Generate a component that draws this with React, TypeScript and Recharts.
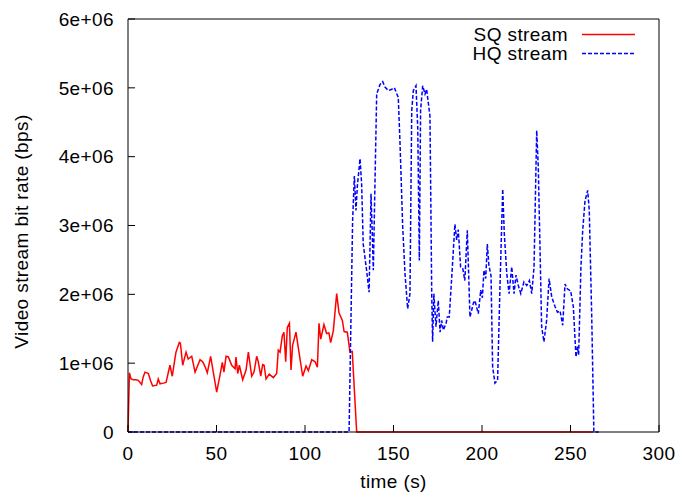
import React from 'react';
import { LineChart, Line, XAxis, YAxis, Legend } from 'recharts';

// SQ stream samples: time (s) and bit rate (Mbps)
const sqTime = [
  0, 0.8, 1.7, 3, 4.5, 5.8, 7.7, 8.6, 9.6, 11.5,
  12.8, 13.9, 16.2, 17.1, 18.1, 20, 21.5, 23.7, 25, 26,
  27.1, 29, 29.6, 30.9, 32.8, 34, 36, 37.9, 40.7, 42.2,
  43.5, 44.8, 46.7, 48.3, 50.1, 52, 53.3, 54.2, 55.4, 56.7,
  58.6, 60.5, 61, 62, 62.9, 64.8, 66.7, 68, 69.9, 71.2,
  72.7, 73.6, 75, 76.1, 76.9, 78, 79.8, 82.1, 84, 84.9,
  85.9, 87.2, 88.1, 89.1, 90, 91.2, 92.1, 93, 94.9, 96.6,
  98.7, 100.6, 101.9, 103.8, 105.7, 107, 107.9, 108.9, 110.7, 112.2,
  113.5, 114.5, 116, 117.9, 119.2, 121.1, 122.1, 123.9, 125.4, 126.7,
  129.2, 263,
];
const sqRate = [
  0, 0.86, 0.77, 0.76, 0.76, 0.75, 0.69, 0.8, 0.87, 0.85,
  0.74, 0.67, 0.68, 0.77, 0.7, 0.71, 0.72, 0.97, 0.81, 0.98,
  1.16, 1.3, 1.29, 0.97, 1.16, 1.06, 1.1, 0.87, 1.05, 1.02,
  0.95, 0.86, 1.1, 0.85, 0.58, 0.83, 1.01, 0.87, 1.1, 1.09,
  0.97, 0.92, 1.09, 0.85, 0.97, 0.76, 0.9, 1.16, 0.81, 0.87,
  1.1, 1.02, 0.81, 0.98, 0.97, 0.77, 0.84, 0.79, 0.85, 1.19,
  1.16, 1.4, 1.45, 1.02, 1.52, 1.58, 0.9, 1.26, 1.45, 1.16,
  0.81, 0.96, 0.89, 1.05, 1.02, 0.94, 1.58, 1.35, 1.56, 1.43,
  1.44, 1.3, 1.47, 2.01, 1.73, 1.62, 1.46, 1.45, 1.16, 1.17,
  0, 0,
];

// HQ stream samples: time (s) and bit rate (Mbps)
const hqTime = [
  0, 124.9, 126.9, 127.9, 128.8, 129.6, 131.1, 132, 132.9, 134.8,
  136.2, 137.3, 138, 138.6, 139.2, 140.5, 142.4, 143.9, 145.2, 147.1,
  149, 150.5, 152.7, 153.7, 155.2, 156.5, 158, 159.3, 160.3, 161.2,
  162.7, 163.7, 164.6, 165.3, 166.5, 167.8, 168.7, 170.6, 171.6, 172.1,
  172.8, 174, 175.3, 176.3, 177.2, 178.2, 179.7, 180.4, 181.5, 182.9,
  184.7, 185.7, 186.6, 187.9, 189.1, 190.3, 191.7, 193.2, 195.1, 196,
  197.9, 199.3, 200.2, 201.1, 202.1, 203, 203.9, 205.1, 206, 207.3,
  208.8, 210.2, 211.7, 212.6, 214, 215.3, 216.8, 218.1, 219.2, 220.5,
  221.9, 223.7, 225.3, 226.8, 228.1, 229.4, 230.9, 231.8, 232.8, 233.7,
  235, 236.5, 237.9, 239.4, 241.3, 242.6, 244.1, 245.6, 246.9, 248.2,
  250.1, 251.6, 253.1, 253.9, 254.6, 255.9, 256.9, 258.2, 259.7, 260.6,
  262, 263.2, 266,
];
const hqRate = [
  0, 0, 3.07, 3.72, 3.22, 3.58, 3.97, 3.6, 2.73, 2.35,
  2.03, 3.46, 2.88, 2.35, 3.17, 4.91, 5.05, 5.09, 5.01, 4.96,
  4.98, 5.0, 4.86, 4.18, 2.98, 2.3, 1.79, 2.01, 4.67, 4.96,
  5.03, 4.42, 2.49, 4.67, 5.03, 4.91, 4.98, 4.59, 2.01, 1.31,
  2.01, 1.53, 1.91, 1.45, 1.62, 1.48, 1.58, 1.67, 1.67, 2.25,
  3.02, 2.79, 2.94, 2.4, 2.38, 2.2, 2.93, 1.67, 1.87, 1.91,
  1.72, 2.06, 1.95, 2.35, 2.23, 2.73, 2.42, 2.27, 0.95, 0.71,
  0.75, 2.15, 3.53, 2.88, 2.3, 2.01, 2.4, 2.01, 2.28, 2.13,
  2.01, 2.18, 2.13, 2.2, 2.01, 2.4, 4.38, 3.85, 2.64, 1.53,
  1.31, 1.62, 2.23, 1.96, 1.82, 1.74, 1.76, 1.55, 2.15, 2.08,
  2.05, 1.82, 1.09, 1.24, 1.12, 2.4, 2.93, 3.36, 3.51, 3.22,
  1.67, 0, 0,
];

const xTicks = [0, 50, 100, 150, 200, 250, 300];
const yTicks = [0, 1e6, 2e6, 3e6, 4e6, 5e6, 6e6];
const seriesNames = ['SQ stream', 'HQ stream'];

const toRows = (times: number[], rates: number[]) =>
  times.map((t, i) => ({ time: t, rate: rates[i] * 1e6 }));

const sqData = toRows(sqTime, sqRate);
const hqData = toRows(hqTime, hqRate);

const FONT = '"Liberation Sans", Arial, Helvetica, sans-serif';
const textStyle = { fontSize: 19, fill: '#000', fontFamily: FONT, letterSpacing: 0.4 };
const axisStroke = { stroke: '#000', strokeWidth: 1 };
const lineStyles = [
  { color: '#ff0000', dash: undefined as string | undefined },
  { color: '#0000ff', dash: '4 2' },
];

const formatY = (v: number) => (v === 0 ? '0' : `${v / 1e6}e+06`);

const renderLegend = () => (
  <svg width={220} height={46} style={{ display: 'block' }}>
    {seriesNames.map((name, i) => (
      <g key={name}>
        <text x={128} y={21 + i * 19} textAnchor="end" style={textStyle}>
          {name}
        </text>
        <line
          x1={142}
          x2={195}
          y1={14.5 + i * 19}
          y2={14.5 + i * 19}
          stroke={lineStyles[i].color}
          strokeWidth={1.5}
          strokeDasharray={lineStyles[i].dash}
        />
      </g>
    ))}
  </svg>
);

const YLabel = (props: any) => {
  const vb = props.viewBox || { x: 0, y: 0, width: 0, height: 0 };
  const cy = vb.y + vb.height / 2 + 6;
  return (
    <text
      transform={`translate(${vb.x + 28},${cy}) rotate(-90)`}
      textAnchor="middle"
      style={textStyle}
    >
      Video stream bit rate (bps)
    </text>
  );
};

export default function App() {
  return (
    <div style={{ position: 'absolute', left: 0, top: 0, background: '#fff' }}>
      <LineChart
        width={683}
        height={495}
        margin={{ top: 18, right: 23, left: 0, bottom: 0 }}
      >
        <XAxis
          xAxisId="bottom"
          dataKey="time"
          type="number"
          domain={[0, 300]}
          ticks={xTicks}
          allowDuplicatedCategory={false}
          height={63}
          tickSize={-7}
          tickMargin={22}
          tick={textStyle}
          axisLine={axisStroke}
          tickLine={axisStroke}
          label={{
            value: 'time (s)',
            position: 'insideBottom',
            offset: 7,
            style: textStyle,
          }}
        />
        <XAxis
          xAxisId="top"
          orientation="top"
          dataKey="time"
          type="number"
          domain={[0, 300]}
          ticks={xTicks}
          height={1}
          tickSize={-7}
          tick={false}
          axisLine={axisStroke}
          tickLine={axisStroke}
        />
        <YAxis
          yAxisId="left"
          type="number"
          domain={[0, 6e6]}
          ticks={yTicks}
          width={128}
          tickSize={-7}
          tickMargin={21}
          tick={textStyle}
          tickFormatter={formatY}
          axisLine={axisStroke}
          tickLine={axisStroke}
          label={{ content: YLabel }}
        />
        <YAxis
          yAxisId="right"
          orientation="right"
          type="number"
          domain={[0, 6e6]}
          ticks={yTicks}
          width={1}
          tickSize={-7}
          tick={false}
          axisLine={axisStroke}
          tickLine={axisStroke}
        />
        <Legend
          layout="vertical"
          align="center"
          verticalAlign="middle"
          content={renderLegend}
          wrapperStyle={{ top: 20, left: 440, width: 220, height: 46 }}
        />
        <Line
          xAxisId="bottom"
          yAxisId="left"
          data={sqData}
          dataKey="rate"
          name={seriesNames[0]}
          type="linear"
          stroke={lineStyles[0].color}
          strokeWidth={1.5}
          dot={false}
          activeDot={false}
          isAnimationActive={false}
        />
        <Line
          xAxisId="bottom"
          yAxisId="left"
          data={hqData}
          dataKey="rate"
          name={seriesNames[1]}
          type="linear"
          stroke={lineStyles[1].color}
          strokeWidth={1.5}
          strokeDasharray={lineStyles[1].dash}
          dot={false}
          activeDot={false}
          isAnimationActive={false}
        />
      </LineChart>
    </div>
  );
}
